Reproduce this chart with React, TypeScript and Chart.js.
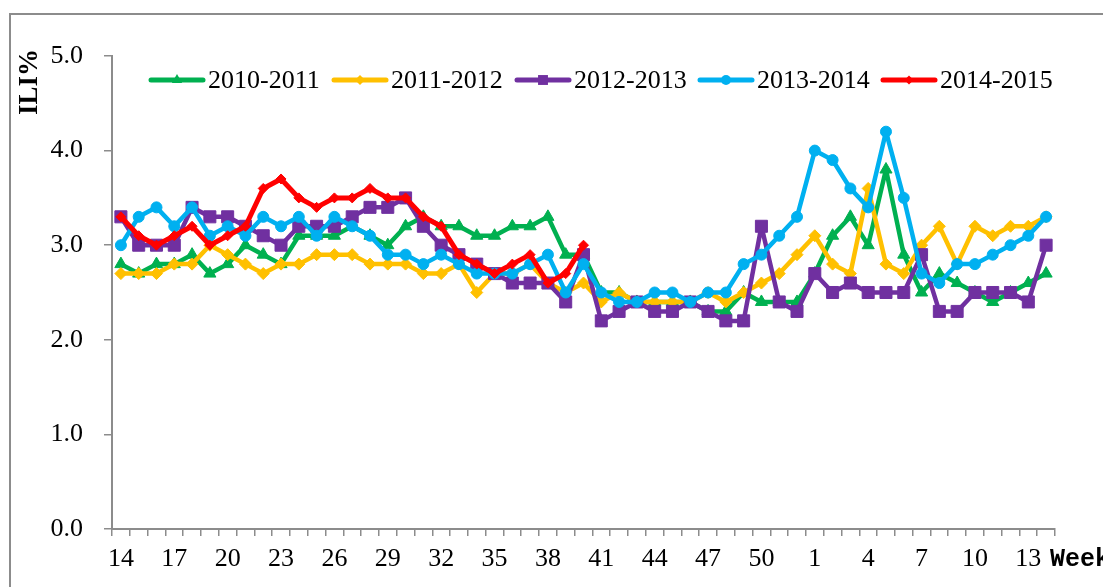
import React, { useEffect, useRef } from 'react';
import { Chart, registerables } from 'chart.js';

Chart.register(...registerables);

const weeks = [
  '14', '15', '16', '17', '18', '19', '20', '21', '22', '23', '24', '25', '26',
  '27', '28', '29', '30', '31', '32', '33', '34', '35', '36', '37', '38', '39', '40',
  '41', '42', '43', '44', '45', '46', '47', '48', '49', '50', '51', '52',
  '1', '2', '3', '4', '5', '6', '7', '8', '9', '10', '11', '12', '13', '14',
];

const seriesNames = ['2010-2011', '2011-2012', '2012-2013', '2013-2014', '2014-2015'];

const ili2010 = [
  2.8, 2.7, 2.8, 2.8, 2.9, 2.7, 2.8, 3.0, 2.9, 2.8, 3.1, 3.1, 3.1,
  3.2, 3.1, 3.0, 3.2, 3.3, 3.2, 3.2, 3.1, 3.1, 3.2, 3.2, 3.3, 2.9, 2.9,
  2.5, 2.5, 2.4, 2.4, 2.4, 2.4, 2.3, 2.3, 2.5, 2.4, 2.4, 2.4,
  2.7, 3.1, 3.3, 3.0, 3.8, 2.9, 2.5, 2.7, 2.6, 2.5, 2.4, 2.5, 2.6, 2.7,
];
const ili2011 = [
  2.7, 2.7, 2.7, 2.8, 2.8, 3.0, 2.9, 2.8, 2.7, 2.8, 2.8, 2.9, 2.9,
  2.9, 2.8, 2.8, 2.8, 2.7, 2.7, 2.8, 2.5, 2.7, 2.7, 2.8, 2.6, 2.5, 2.6,
  2.4, 2.5, 2.4, 2.4, 2.4, 2.4, 2.5, 2.4, 2.5, 2.6, 2.7, 2.9,
  3.1, 2.8, 2.7, 3.6, 2.8, 2.7, 3.0, 3.2, 2.8, 3.2, 3.1, 3.2, 3.2, 3.3,
];
const ili2012 = [
  3.3, 3.0, 3.0, 3.0, 3.4, 3.3, 3.3, 3.2, 3.1, 3.0, 3.2, 3.2, 3.2,
  3.3, 3.4, 3.4, 3.5, 3.2, 3.0, 2.9, 2.8, 2.7, 2.6, 2.6, 2.6, 2.4, 2.9,
  2.2, 2.3, 2.4, 2.3, 2.3, 2.4, 2.3, 2.2, 2.2, 3.2, 2.4, 2.3,
  2.7, 2.5, 2.6, 2.5, 2.5, 2.5, 2.9, 2.3, 2.3, 2.5, 2.5, 2.5, 2.4, 3.0,
];
const ili2013 = [
  3.0, 3.3, 3.4, 3.2, 3.4, 3.1, 3.2, 3.1, 3.3, 3.2, 3.3, 3.1, 3.3,
  3.2, 3.1, 2.9, 2.9, 2.8, 2.9, 2.8, 2.7, 2.7, 2.7, 2.8, 2.9, 2.5, 2.8,
  2.5, 2.4, 2.4, 2.5, 2.5, 2.4, 2.5, 2.5, 2.8, 2.9, 3.1, 3.3,
  4.0, 3.9, 3.6, 3.4, 4.2, 3.5, 2.7, 2.6, 2.8, 2.8, 2.9, 3.0, 3.1, 3.3,
];
const ili2014 = [
  3.3, 3.1, 3.0, 3.1, 3.2, 3.0, 3.1, 3.2, 3.6, 3.7, 3.5, 3.4, 3.5,
  3.5, 3.6, 3.5, 3.5, 3.3, 3.2, 2.9, 2.8, 2.7, 2.8, 2.9, 2.6, 2.7, 3.0,
  null, null, null, null, null, null, null, null, null, null, null, null,
  null, null, null, null, null, null, null, null, null, null, null, null, null, null,
];

const yTicks = [0, 1, 2, 3, 4, 5];

const colors = ['#00B050', '#FFC000', '#7030A0', '#00B0F0', '#FF0000'];
const styles = ['triangle', 'rectRot', 'rect', 'circle', 'rectRot'];
const radii = [7, 6, 8.5, 5.5, 5];
const lineWidths = [4.5, 4.5, 4.5, 4.5, 5];
const legendRadii = [6, 5, 7, 5, 4.5];

function drawMarker(ctx: CanvasRenderingContext2D, style: string, x: number, y: number, r: number, color: string) {
  ctx.save();
  ctx.fillStyle = color;
  ctx.beginPath();
  if (style === 'circle') {
    ctx.arc(x, y, r, 0, Math.PI * 2);
  } else if (style === 'rect') {
    const s = r * Math.SQRT1_2;
    ctx.rect(x - s, y - s, 2 * s, 2 * s);
  } else if (style === 'rectRot') {
    ctx.moveTo(x, y - r);
    ctx.lineTo(x + r, y);
    ctx.lineTo(x, y + r);
    ctx.lineTo(x - r, y);
    ctx.closePath();
  } else if (style === 'triangle') {
    ctx.moveTo(x, y - r);
    ctx.lineTo(x + r * 0.866, y + r / 2);
    ctx.lineTo(x - r * 0.866, y + r / 2);
    ctx.closePath();
  }
  ctx.fill();
  ctx.restore();
}

const framePlugin = {
  id: 'frame',
  beforeDraw(chart: any) {
    const ctx = chart.ctx as CanvasRenderingContext2D;
    ctx.save();
    ctx.fillStyle = '#ffffff';
    ctx.fillRect(0, 0, chart.width, chart.height);
    ctx.strokeStyle = '#8c8c8c';
    ctx.lineWidth = 2;
    ctx.strokeRect(10, 14, chart.width + 100, chart.height + 100);
    ctx.restore();
  },
};

const decorPlugin = {
  id: 'decor',
  afterDraw(chart: any) {
    const ctx = chart.ctx as CanvasRenderingContext2D;
    const ly = 80;
    chart.data.datasets.forEach((ds: any, i: number) => {
      const x0 = 149 + 183 * i;
      ctx.save();
      ctx.strokeStyle = colors[i];
      ctx.lineWidth = 5;
      ctx.lineCap = 'round';
      ctx.beginPath();
      ctx.moveTo(x0 + 2, ly);
      ctx.lineTo(x0 + 54, ly);
      ctx.stroke();
      drawMarker(ctx, styles[i], x0 + 28, ly, legendRadii[i], colors[i]);
      ctx.fillStyle = '#000';
      ctx.font = '26px "Liberation Serif"';
      ctx.textBaseline = 'middle';
      ctx.textAlign = 'left';
      ctx.fillText(ds.label, x0 + 59, ly + 1);
      ctx.restore();
    });

    // Y axis title
    ctx.save();
    ctx.translate(30, 82);
    ctx.rotate(-Math.PI / 2);
    ctx.fillStyle = '#000';
    ctx.font = 'bold 27px "Liberation Serif"';
    ctx.textAlign = 'center';
    ctx.textBaseline = 'middle';
    ctx.fillText('ILI%', 0, 0);
    ctx.restore();

    // X axis unit label
    ctx.save();
    ctx.fillStyle = '#000';
    ctx.font = 'bold 25px "Liberation Mono"';
    ctx.textAlign = 'left';
    ctx.textBaseline = 'middle';
    ctx.fillText('Week', 1050, 560);
    ctx.restore();
  },
};

export default function App() {
  const canvasRef = useRef<HTMLCanvasElement | null>(null);

  useEffect(() => {
    if (!canvasRef.current) return;
    const seriesData = [ili2010, ili2011, ili2012, ili2013, ili2014];
    const chart = new Chart(canvasRef.current, {
      type: 'line',
      data: {
        labels: weeks,
        datasets: seriesNames.map((name, i) => ({
          label: name,
          data: seriesData[i],
          borderColor: colors[i],
          backgroundColor: colors[i],
          borderWidth: lineWidths[i],
          pointStyle: styles[i] as any,
          pointRadius: radii[i],
          pointBorderWidth: 1,
          pointBackgroundColor: colors[i],
          pointBorderColor: colors[i],
          borderJoinStyle: 'round' as const,
          borderCapStyle: 'round' as const,
          tension: 0,
          fill: false,
          spanGaps: false,
          order: 5 - i,
        })),
      },
      options: {
        animation: false,
        responsive: false,
        devicePixelRatio: 1,
        layout: { padding: { left: 0, top: 56, right: 48, bottom: 0 } },
        plugins: {
          legend: { display: false },
          tooltip: { enabled: false },
          title: { display: false },
        },
        scales: {
          x: {
            type: 'category',
            offset: true,
            grid: {
              offset: true,
              drawOnChartArea: false,
              drawTicks: true,
              tickLength: 7,
              color: '#8c8c8c',
              lineWidth: 1.5,
            },
            border: { display: true, color: '#8c8c8c', width: 2 },
            ticks: {
              autoSkip: false,
              maxRotation: 0,
              minRotation: 0,
              padding: 8,
              color: '#000',
              font: { family: '"Liberation Serif"', size: 26 },
              callback: (_v: any, idx: number) => (idx % 3 === 0 ? weeks[idx] : ''),
            },
            afterFit: (scale: any) => {
              scale.height = 58;
            },
          },
          y: {
            min: 0,
            max: 5,
            afterBuildTicks: (scale: any) => {
              scale.ticks = yTicks.map((v) => ({ value: v }));
            },
            grid: {
              drawOnChartArea: false,
              drawTicks: true,
              tickLength: 8,
              color: '#8c8c8c',
              lineWidth: 1.5,
            },
            border: { display: true, color: '#8c8c8c', width: 2 },
            ticks: {
              padding: 21,
              color: '#000',
              font: { family: '"Liberation Serif"', size: 26 },
              callback: (v: any) => Number(v).toFixed(1),
            },
            afterFit: (scale: any) => {
              scale.width = 112;
            },
          },
        },
      },
      plugins: [framePlugin, decorPlugin],
    });
    return () => chart.destroy();
  }, []);

  return (
    <div style={{ position: 'fixed', left: 0, top: 0, width: 1103, height: 587, background: '#fff', overflow: 'hidden' }}>
      <canvas ref={canvasRef} width={1103} height={587} style={{ display: 'block', width: 1103, height: 587 }} />
    </div>
  );
}
